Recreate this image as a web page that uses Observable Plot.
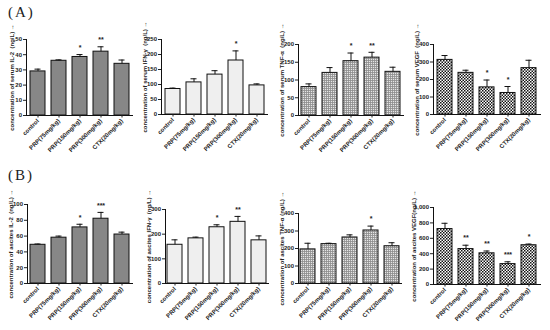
<!DOCTYPE html>
<html><head><meta charset="utf-8">
<script src="https://cdn.jsdelivr.net/npm/d3@7"></script>
<script src="https://cdn.jsdelivr.net/npm/@observablehq/plot@0.6"></script>
<style>
body{margin:0;background:#fff;}
#wrap{position:relative;width:550px;height:330px;overflow:hidden;background:#fff;}
.panel{position:absolute;}
.tag{position:absolute;font-family:"Liberation Serif",serif;font-size:15px;color:#222;letter-spacing:2px;}
</style></head>
<body><div id="wrap"></div>
<script>
const groups = ["control","PRP(75mg/kg)","PRP(150mg/kg)","PRP(300mg/kg)","CTX(20mg/kg)"];

const serumIL2 = [29, 36, 38.5, 42, 34];
const serumIL2Err = [1.5, 0.6, 1.6, 3.2, 2.5];
const serumIL2Sig = ["", "", "*", "**", ""];

const serumIFN = [85, 107, 133, 180, 97];
const serumIFNErr = [3, 12, 13, 32, 5];
const serumIFNSig = ["", "", "", "*", ""];

const serumTNF = [80, 120, 153, 163, 123];
const serumTNFErr = [9, 15, 23, 15, 13];
const serumTNFSig = ["", "", "*", "**", ""];

const serumVEGF = [312, 238, 155, 123, 265];
const serumVEGFErr = [25, 15, 42, 37, 45];
const serumVEGFSig = ["", "", "*", "*", ""];

const ascIL2 = [49, 58, 71, 82, 62];
const ascIL2Err = [1, 2, 4, 8, 3];
const ascIL2Sig = ["", "", "*", "***", ""];

const ascIFN = [157, 183, 228, 250, 175];
const ascIFNErr = [20, 5, 10, 22, 18];
const ascIFNSig = ["", "", "*", "**", ""];

const ascTNF = [195, 225, 263, 303, 213];
const ascTNFErr = [35, 5, 15, 25, 20];
const ascTNFSig = ["", "", "", "*", ""];

const ascVEGF = [720, 460, 405, 265, 510];
const ascVEGFErr = [75, 50, 30, 30, 15];
const ascVEGFSig = ["", "**", "**", "***", "*"];

const labels = [
 "concentration of serum IL-2  (ng/L)",
 "concentration of serum IFN-γ  (ng/L)",
 "concentration of serum TNF-α  (ng/L)",
 "concentration of serum VEGF  (ng/L)",
 "concentration of ascites IL-2  (ng/L)",
 "concentration of ascites IFN-γ  (ng/L)",
 "concentration of ascites TNF-α (ng/L)",
 "concentration of ascites VEGF(ng/L)"
];
const yMax = [50, 250, 200, 400, 100, 300, 400, 1000];
const yStep = [10, 50, 50, 100, 20, 100, 100, 200];

const series = [
 [serumIL2, serumIL2Err, serumIL2Sig],
 [serumIFN, serumIFNErr, serumIFNSig],
 [serumTNF, serumTNFErr, serumTNFSig],
 [serumVEGF, serumVEGFErr, serumVEGFSig],
 [ascIL2, ascIL2Err, ascIL2Sig],
 [ascIFN, ascIFNErr, ascIFNSig],
 [ascTNF, ascTNFErr, ascTNFSig],
 [ascVEGF, ascVEGFErr, ascVEGFSig]
];

// layout: axis x, top px, zero px, right px, fill style, label offset
const layout = [
 {ax:26, top:39, zero:115, right:133, fill:"solid", lo:17},
 {ax:161, top:39, zero:114, right:268, fill:"light", lo:19},
 {ax:298, top:44, zero:115, right:404, fill:"grid", lo:19},
 {ax:433, top:44, zero:114, right:541, fill:"check", lo:19},
 {ax:27, top:204, zero:283, right:133, fill:"solid", lo:19},
 {ax:165, top:209, zero:283, right:269, fill:"light", lo:19},
 {ax:298, top:213, zero:283, right:402, fill:"grid", lo:19},
 {ax:433, top:207, zero:284, right:541, fill:"check", lo:22}
];

const wrap = document.getElementById("wrap");
const ML = 26, MT = 14, MB = 52, MR = 4;

function patternDefs(svg, id, kind){
  const defs = d3.select(svg).insert("defs", ":first-child");
  if (kind === "grid") {
    const p = defs.append("pattern").attr("id", id).attr("patternUnits","userSpaceOnUse").attr("width",2).attr("height",2);
    p.append("rect").attr("width",2).attr("height",2).attr("fill","#e6e6e6");
    p.append("rect").attr("width",2).attr("height",0.8).attr("fill","#8c8c8c");
    p.append("rect").attr("width",0.8).attr("height",2).attr("fill","#8c8c8c");
  } else if (kind === "check") {
    const p = defs.append("pattern").attr("id", id).attr("patternUnits","userSpaceOnUse").attr("width",3).attr("height",3);
    p.append("rect").attr("width",3).attr("height",3).attr("fill","#fff");
    p.append("rect").attr("width",1.5).attr("height",1.5).attr("fill","#111");
    p.append("rect").attr("x",1.5).attr("y",1.5).attr("width",1.5).attr("height",1.5).attr("fill","#111");
  }
}

layout.forEach((L, i) => {
  const [vals, errs, sig] = series[i];
  const data = groups.map((g, k) => ({g, v: vals[k], e: errs[k], s: sig[k]}));
  const id = "pat" + i;
  const fill = L.fill === "solid" ? "#878787" : L.fill === "light" ? "#efefef" : `url(#${id})`;
  const width = L.right - L.ax + ML + MR;
  const height = (L.zero - L.top) + MT + MB;
  const svg = Plot.plot({
    width, height,
    marginLeft: ML, marginRight: MR, marginTop: MT, marginBottom: MB,
    style: {background: "transparent", fontFamily: "Liberation Sans, Arial, sans-serif", fontSize: "6px", fontWeight: "bold", color: "#222", overflow: "visible"},
    x: {domain: groups, paddingInner: 0.27, paddingOuter: 0.1, label: null},
    y: {domain: [0, yMax[i]], ticks: d3.range(0, yMax[i] + 1e-9, yStep[i]), label: null},
    marks: [
      Plot.barY(data, {x: "g", y: "v", fill, stroke: "#111", strokeWidth: 1}),
      Plot.ruleX(data, {x: "g", y1: "v", y2: d => d.v + d.e, stroke: "#111", strokeWidth: 1}),
      Plot.tickY(data, {x: "g", y: d => d.v + d.e, stroke: "#111", strokeWidth: 1, insetLeft: 4.5, insetRight: 4.5}),
      Plot.text(data, {x: "g", y: d => d.v + d.e, text: "s", dy: -7, fontSize: 7, fill: "#222"}),
      Plot.ruleY([0], {stroke: "#111", strokeWidth: 1}),
      Plot.axisY({ticks: d3.range(0, yMax[i] + 1e-9, yStep[i]), tickSize: 3, tickPadding: 1.5, label: labels[i], labelAnchor: "center", labelOffset: L.lo, fontSize: 6}),
      Plot.axisX({tickSize: 2.5, tickRotate: -45, tickPadding: 2, label: null, fontSize: 6}),
      Plot.frame({anchor: "left", stroke: "#111"})
    ]
  });
  if (L.fill === "grid" || L.fill === "check") patternDefs(svg, id, L.fill);
  svg.classList.add("panel");
  svg.style.left = (L.ax - ML) + "px";
  svg.style.top = (L.top - MT) + "px";
  svg.style.position = "absolute";
  svg.style.maxWidth = "none";
  wrap.appendChild(svg);
});

const tags = [["(A)", 8, 4], ["(B)", 8, 167]];
tags.forEach(([t, x, y]) => {
  const d = document.createElement("div");
  d.className = "tag"; d.textContent = t;
  d.style.left = x + "px"; d.style.top = y + "px";
  wrap.appendChild(d);
});
</script></body></html>
